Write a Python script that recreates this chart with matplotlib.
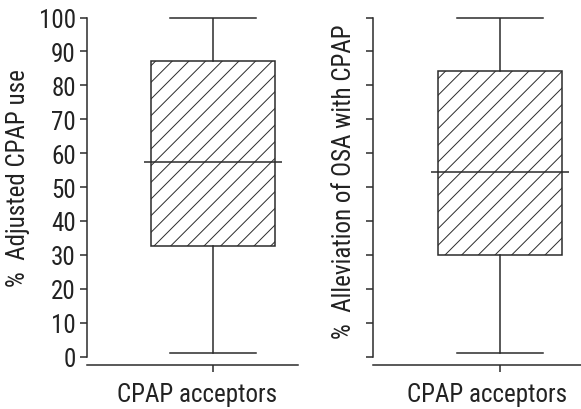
import matplotlib
matplotlib.use("Agg")
import matplotlib.pyplot as plt

plt.rcParams['font.family'] = ['Roboto Condensed', 'Liberation Sans', 'DejaVu Sans']
plt.rcParams['hatch.linewidth'] = 0.7

# Data
category = "CPAP acceptors"
ylabels = ["%  Adjusted CPAP use", "%  Alleviation of OSA with CPAP"]
whislo = [1.0, 1.0]
q1 = [32.7, 29.8]
med = [57.4, 54.5]
q3 = [87.2, 84.1]
whishi = [100.0, 100.0]
yticks = [0, 10, 20, 30, 40, 50, 60, 70, 80, 90, 100]

LC = '#2b2b2b'
TC = '#222222'
FS = 18
fig = plt.figure(figsize=(5.81, 4.10), dpi=100)

# axes placement (figure fractions) and label positions (axes fractions)
boxes = [
    dict(rect=[87/581, 1-366/410, 211/581, (366-18.5)/410], xlim=(-0.016, 1.685), labels=True,
         xlab=(0.521, -0.05), ylab=(-0.270, 0.540)),
    dict(rect=[373/581, 1-366/410, 208/581, (366-18.5)/410], xlim=(-0.024, 1.653), labels=False,
         xlab=(0.548, -0.05), ylab=(-0.084, 0.529)),
]

for i, b in enumerate(boxes):
    ax = fig.add_axes(b['rect'])
    stats = [dict(whislo=whislo[i], q1=q1[i], med=med[i], q3=q3[i], whishi=whishi[i], fliers=[])]
    res = ax.bxp(stats, positions=[1], widths=1.0, patch_artist=True, showfliers=False,
                 capwidths=0.69,
                 boxprops=dict(facecolor='white', edgecolor=LC, linewidth=1.1, hatch='//'),
                 whiskerprops=dict(color=LC, linewidth=1.1),
                 capprops=dict(color=LC, linewidth=1.1),
                 medianprops=dict(linewidth=0))
    for c in res['caps']:
        c.set_clip_on(False)
    ax.hlines(med[i], 1 - 0.56, 1 + 0.56, color=LC, linewidth=1.1, zorder=5)
    ax.set_xlim(*b['xlim'])
    ax.set_ylim(-2.5, 100)
    ax.set_yticks(yticks)
    ax.spines['top'].set_visible(False)
    ax.spines['right'].set_visible(False)
    ax.spines['left'].set_bounds(0, 100)
    for s in ['left', 'bottom']:
        ax.spines[s].set_color(LC)
        ax.spines[s].set_linewidth(1.1)
    ax.tick_params(axis='y', length=5, width=1.1, color=LC, labelsize=FS, pad=3,
                   labelleft=b['labels'], labelcolor=TC)
    ax.tick_params(axis='x', length=5, width=1.1, color=LC, labelbottom=False)
    ax.set_xticks([1])
    ax.set_xlabel(category, fontsize=FS, color=TC)
    ax.xaxis.set_label_coords(*b['xlab'])
    ax.set_ylabel(ylabels[i], fontsize=FS, color=TC)
    ax.yaxis.set_label_coords(*b['ylab'])

fig.savefig("out.png", dpi=100)
